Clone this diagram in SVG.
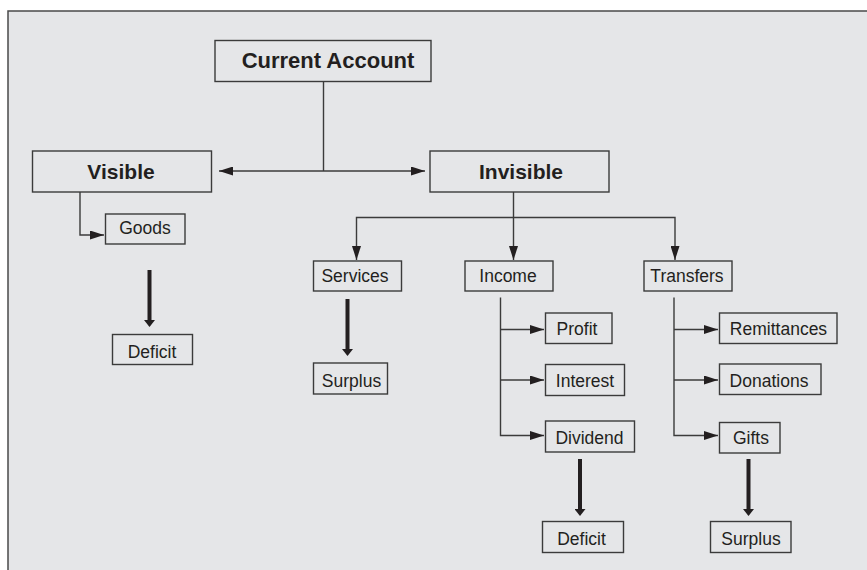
<svg xmlns="http://www.w3.org/2000/svg" width="867" height="570" viewBox="0 0 867 570">
<defs>
<style>
.box{fill:none;stroke:#3b3b3b;stroke-width:1.4}
.t{font-family:"Liberation Sans",Arial,sans-serif;font-size:17.5px;fill:#231f20;text-anchor:middle}
.b{font-family:"Liberation Sans",Arial,sans-serif;font-size:21px;font-weight:bold;fill:#231f20;text-anchor:middle}
.ln{fill:none;stroke:#3b3b3b;stroke-width:1.4}
.thick{fill:none;stroke:#231f20;stroke-width:4}
</style>
<marker id="ah" markerUnits="userSpaceOnUse" viewBox="0 0 14 9" refX="14" refY="4.5" markerWidth="14" markerHeight="9" orient="auto-start-reverse">
<path d="M0,0 L14,4.5 L0,9 Z" fill="#231f20"/>
</marker>
<marker id="th" markerUnits="userSpaceOnUse" viewBox="0 0 7 11" refX="0" refY="5.5" markerWidth="7" markerHeight="11" orient="auto">
<path d="M0,0 L7,5.5 L0,11 Z" fill="#231f20"/>
</marker>
</defs>
<rect x="0" y="0" width="867" height="570" fill="#ffffff"/>
<rect x="8" y="11" width="870" height="570" fill="#e5e6e8" stroke="#4a4a4a" stroke-width="1.5"/>

<g id="connectors">
<path class="ln" d="M323.5,81 V171"/>
<path class="ln" d="M219,171 H425" marker-start="url(#ah)" marker-end="url(#ah)"/>
<path class="ln" d="M80,192 V235 H104" marker-end="url(#ah)"/>
<path class="ln" d="M513.5,192 V260" marker-end="url(#ah)"/>
<path class="ln" d="M356.5,260 V217.5 H675 V260" marker-end="url(#ah)" marker-start="url(#ah)"/>
<path class="ln" d="M500.5,297.5 V435.5 H544" marker-end="url(#ah)"/>
<path class="ln" d="M500.5,329.5 H544" marker-end="url(#ah)"/>
<path class="ln" d="M500.5,380 H544" marker-end="url(#ah)"/>
<path class="ln" d="M674,297.5 V435.5 H718" marker-end="url(#ah)"/>
<path class="ln" d="M674,329.5 H718" marker-end="url(#ah)"/>
<path class="ln" d="M674,380 H718" marker-end="url(#ah)"/>
<path class="thick" d="M149.5,270 V320" marker-end="url(#th)"/>
<path class="thick" d="M347.5,299 V349" marker-end="url(#th)"/>
<path class="thick" d="M580,459 V509" marker-end="url(#th)"/>
<path class="thick" d="M748.5,459 V509" marker-end="url(#th)"/>
</g>

<g id="current-account"><rect class="box" x="215" y="40.5" width="216" height="41"/><text class="b" x="328" y="68" style="font-size:22px">Current Account</text></g>
<g id="visible"><rect class="box" x="32.5" y="151" width="179" height="41"/><text class="b" x="121" y="179">Visible</text></g>
<g id="invisible"><rect class="box" x="430" y="151" width="179" height="41"/><text class="b" x="521" y="179">Invisible</text></g>
<g id="goods"><rect class="box" x="105.5" y="214" width="79.5" height="30"/><text class="t" x="145" y="233.5">Goods</text></g>
<g id="deficit-visible"><rect class="box" x="112.5" y="334.5" width="80" height="30"/><text class="t" x="152" y="358">Deficit</text></g>
<g id="services"><rect class="box" x="313.5" y="261" width="88" height="30"/><text class="t" x="355" y="281.5">Services</text></g>
<g id="surplus-services"><rect class="box" x="313.5" y="363" width="74" height="31"/><text class="t" x="351.5" y="386.5">Surplus</text></g>
<g id="income"><rect class="box" x="465" y="261" width="88" height="30"/><text class="t" x="508" y="281.5">Income</text></g>
<g id="transfers"><rect class="box" x="644" y="261" width="88" height="30"/><text class="t" x="687" y="281.5">Transfers</text></g>
<g id="profit"><rect class="box" x="545.5" y="313" width="66.5" height="30.5"/><text class="t" x="577" y="335">Profit</text></g>
<g id="interest"><rect class="box" x="545.5" y="364.5" width="79" height="31"/><text class="t" x="585" y="386.5">Interest</text></g>
<g id="dividend"><rect class="box" x="545.5" y="421" width="89" height="31"/><text class="t" x="589.5" y="443.5">Dividend</text></g>
<g id="deficit-income"><rect class="box" x="542.5" y="521.5" width="81" height="31"/><text class="t" x="581.5" y="545">Deficit</text></g>
<g id="remittances"><rect class="box" x="719.5" y="313" width="117.5" height="30.5"/><text class="t" x="778.5" y="335">Remittances</text></g>
<g id="donations"><rect class="box" x="719.5" y="364" width="101.5" height="30.5"/><text class="t" x="769" y="386.5">Donations</text></g>
<g id="gifts"><rect class="box" x="719.5" y="422.5" width="60.5" height="30.5"/><text class="t" x="751" y="443.5">Gifts</text></g>
<g id="surplus-transfers"><rect class="box" x="710.5" y="521.5" width="80.5" height="31"/><text class="t" x="751" y="545">Surplus</text></g>
</svg>
